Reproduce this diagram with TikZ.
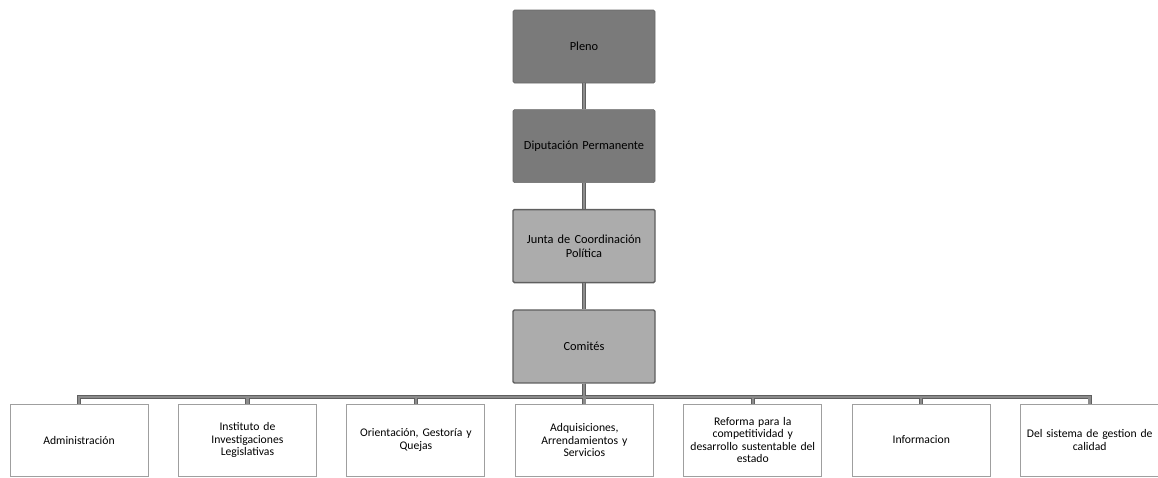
\documentclass[tikz,border=0pt]{standalone}
\usepackage{fontspec}
\setmainfont{Carlito}
\usetikzlibrary{positioning}
\definecolor{darkbox}{RGB}{122,122,122}
\definecolor{lightbox}{RGB}{172,172,172}
\definecolor{lineedge}{RGB}{95,95,95}
\definecolor{linefill}{RGB}{140,140,140}

\begin{document}
\begin{tikzpicture}[node distance=0.65cm, auto]
\useasboundingbox (0,0) rectangle (28.95,-11.95);

\tikzstyle{mando} = [rectangle, rounded corners=1pt, minimum width=3.55cm, minimum height=1.825cm, text width=3.3cm, inner xsep=0.1cm, align=center, font=\fontsize{8.8}{9.6}\selectfont];
\tikzstyle{comite} = [rectangle, draw=gray!75, line width=0.6pt, fill=white, minimum width=3.45cm, minimum height=1.8cm, text width=3.25cm, inner xsep=0.1cm, align=center, font=\fontsize{8.3}{8.9}\selectfont];

% Cadena superior
\node (pleno) [mando, fill=darkbox, draw=darkbox!85!black] at (14.6,-1.1625) {Pleno};
\node (diputacion) [mando, fill=darkbox, draw=darkbox!85!black, below=of pleno] {Diputación Permanente};
\node (junta) [mando, fill=lightbox, draw=lineedge, line width=1pt, below=of diputacion] {Junta de Coordinación\\Política};
\node (comites) [mando, fill=lightbox, draw=lineedge, line width=1pt, below=of junta] {Comités};

% Comites
\node (admin) [comite] at (1.975,-11.0) {Administración};
\node (instituto) [comite, right=0.74cm of admin] {Instituto de\\Investigaciones\\Legislativas};
\node (orientacion) [comite, right=0.74cm of instituto] {Orientación, Gestoría y\\Quejas};
\node (adquisiciones) [comite, right=0.74cm of orientacion] {Adquisiciones,\\Arrendamientos y\\Servicios};
\node (reforma) [comite, right=0.74cm of adquisiciones] {Reforma para la\\competitividad y\\desarrollo sustentable del\\estado};
\node (informacion) [comite, right=0.74cm of reforma] {Informacion};
\node (calidad) [comite, right=0.74cm of informacion] {Del sistema de gestion de\\calidad};

% Conexiones
\foreach \w/\c in {3pt/lineedge, 1.8pt/linefill} {
  \draw[line width=\w, draw=\c] (pleno) -- (diputacion) -- (junta) -- (comites);
  \foreach \b in {admin,instituto,orientacion,adquisiciones,reforma,informacion,calidad}
    \draw[line width=\w, draw=\c] (comites.south) -- ++(0,-0.33) -| (\b.north);
}

\end{tikzpicture}
\end{document}
